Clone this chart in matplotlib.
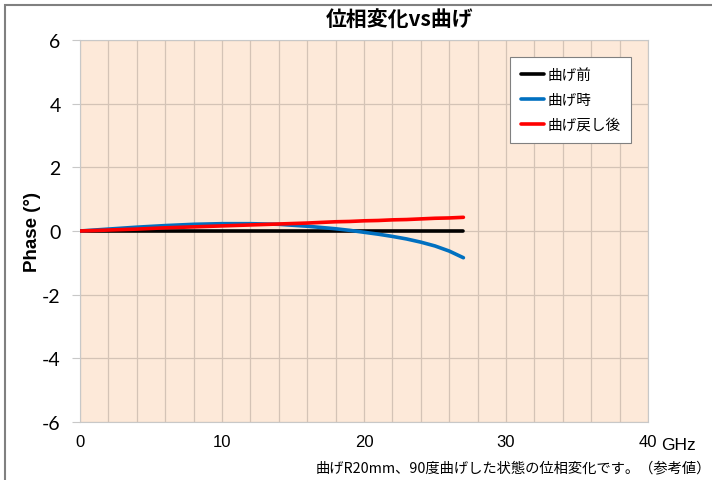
import matplotlib
matplotlib.use("Agg")
import matplotlib.pyplot as plt
from matplotlib.patches import Rectangle

plt.rcParams['font.family'] = ['Noto Sans CJK JP', 'DejaVu Sans']

freq = [0, 2, 4, 6, 8, 10, 12, 14, 16, 18, 19, 20, 21, 22, 23, 24, 25, 26, 27]
before = [0] * len(freq)
bending = [0, 0.06, 0.12, 0.17, 0.21, 0.23, 0.23, 0.21, 0.15, 0.07, 0.02, -0.04, -0.10, -0.17, -0.25, -0.35, -0.47, -0.63, -0.84]
after = [0, 0.03, 0.06, 0.10, 0.13, 0.16, 0.19, 0.22, 0.25, 0.29, 0.30, 0.32, 0.33, 0.35, 0.36, 0.38, 0.40, 0.41, 0.43]

labels = ['曲げ前', '曲げ時', '曲げ戻し後']
colors = ['#000000', '#0070C0', '#FF0000']
x_ticks = [0, 10, 20, 30, 40]
y_ticks = [-6, -4, -2, 0, 2, 4, 6]

fig = plt.figure(figsize=(7.12, 4.81), dpi=100)
W, H = 712, 481
ax = fig.add_axes([80 / W, 1 - 423 / H, (648 - 80) / W, (423 - 41) / H])
ax.set_facecolor('#FDE9D9')

for xv in range(0, 41, 2):
    ax.axvline(xv, color='#D4C3B6', lw=0.9, zorder=0)
for yv in y_ticks:
    ax.axhline(yv, color='#D4C3B6', lw=0.9, zorder=0)

for ys, lab, c in zip([before, bending, after], labels, colors):
    ax.plot(freq, ys, color=c, lw=2.6, label=lab, solid_capstyle='round', zorder=3)

ax.set_xlim(0, 40)
ax.set_ylim(-6, 6)
ax.set_xticks(x_ticks)
ax.set_xticklabels([str(v) for v in x_ticks])
ax.set_yticks(y_ticks)
ax.set_yticklabels([str(v) for v in y_ticks])
for lbl in ax.get_xticklabels():
    lbl.set_family(['Liberation Sans', 'DejaVu Sans'])
    lbl.set_fontsize(12)
for lbl in ax.get_yticklabels():
    lbl.set_family(['Lato', 'DejaVu Sans'])
    lbl.set_fontsize(14)
ax.tick_params(axis='x', length=0, pad=9, colors='#000000')
ax.tick_params(axis='y', length=6, width=0.8, color='#C8C8C8', pad=8)
for s in ax.spines.values():
    s.set_color('#C8C8C8')
    s.set_linewidth(0.8)

ax.set_ylabel('Phase (°)', fontsize=13.5, fontweight='bold', family=['Liberation Sans', 'DejaVu Sans'])
ax.yaxis.set_label_coords((41 - 80) / 568, 0.5)

fig.text(400 / W, 1 - 20 / H, '位相変化vs曲げ', ha='center', va='center', fontsize=15, fontweight='bold')
fig.text(661 / W, 1 - 446 / H, 'GHz', ha='left', va='center', fontsize=12.5, family=['Liberation Sans', 'DejaVu Sans'])
fig.text(711 / W, 1 - 468 / H, '曲げR20mm、90度曲げした状態の位相変化です。（参考値）', ha='right', va='center', fontsize=10.3)

leg = ax.legend(loc='upper left', bbox_to_anchor=((510 - 80) / 568, 1 - (58 - 41) / 382),
                frameon=True, fancybox=False, edgecolor='#808080', facecolor='white', framealpha=1,
                fontsize=10.5, handlelength=1.6, handletextpad=0.2, labelspacing=0.75, borderpad=0.75,
                borderaxespad=0)
leg.get_frame().set_linewidth(0.8)

fig.patches.append(Rectangle((5 / W, -0.1), 1.2, 1 - 6 / H + 0.1, transform=fig.transFigure,
                             fill=False, edgecolor='#808080', lw=1.5))

fig.savefig('out.png', dpi=100)
